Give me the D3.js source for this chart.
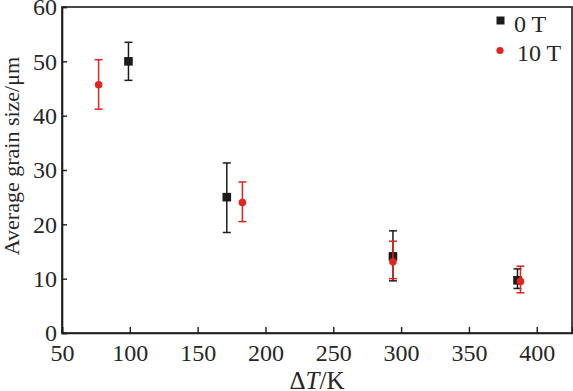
<!DOCTYPE html>
<html><head><meta charset="utf-8">
<script src="https://cdn.jsdelivr.net/npm/d3@7"></script>
<style>body{margin:0;background:#fff}svg{display:block}text{font-family:"Liberation Serif","Times New Roman",serif;fill:#262626}</style>
</head><body><svg id="c" width="573" height="391"></svg>
<script>
const xTicks = [50,100,150,200,250,300,350,400];
const yTicks = [0,10,20,30,40,50,60];
// 0 T series
const x0T = [99, 171.5, 294, 385.8];
const y0T = [50, 25, 14.1, 9.7];
const lo0T = [46.5, 18.5, 9.6, 8.2];
const hi0T = [53.5, 31.3, 18.8, 11.8];
// 10 T series
const x10T = [77, 183, 294, 388];
const y10T = [45.7, 24, 13.1, 9.5];
const lo10T = [41.2, 20.5, 10.0, 7.4];
const hi10T = [50.3, 27.8, 16.9, 12.3];
const legendLabels = ["0 T","10 T"];

const svg = d3.select("#c");
const m = {l:62, r:572, t:7, b:333};
const x = d3.scaleLinear().domain([50,426]).range([m.l,m.r]);
const y = d3.scaleLinear().domain([0,60]).range([m.b,m.t]);
const black = "#1c1c1c", red = "#e3231d";

// frame
svg.append("rect").attr("x",m.l).attr("y",m.t).attr("width",m.r-m.l).attr("height",m.b-m.t)
  .attr("fill","none").attr("stroke",black).attr("stroke-width",1.6);

const xa = svg.append("g").attr("transform",`translate(0,${m.b})`)
  .call(d3.axisBottom(x).tickValues(xTicks).tickSize(-6).tickPadding(11).tickFormat(d3.format("d")));
const ya = svg.append("g").attr("transform",`translate(${m.l},0)`)
  .call(d3.axisLeft(y).tickValues(yTicks).tickSize(-5).tickPadding(5).tickFormat(d3.format("d")));
[xa,ya].forEach(a=>{
  a.select(".domain").attr("stroke",black).attr("stroke-width",1.6);
  a.selectAll(".tick line").attr("stroke",black).attr("stroke-width",1.4);
  a.selectAll(".tick text").attr("font-size",24).attr("fill","#262626").attr("font-family",'"Liberation Serif",serif');
});

function series(xs, ys, los, his, color, shape){
  const g = svg.append("g");
  xs.forEach((xv,i)=>{
    const cx = x(xv);
    g.append("line").attr("x1",cx).attr("x2",cx).attr("y1",y(los[i])).attr("y2",y(his[i]))
      .attr("stroke",color).attr("stroke-width",1.5);
    [los[i],his[i]].forEach(v=>g.append("line").attr("x1",cx-4).attr("x2",cx+4).attr("y1",y(v)).attr("y2",y(v))
      .attr("stroke",color).attr("stroke-width",1.5));
    if(shape==="sq") g.append("rect").attr("x",cx-4.3).attr("y",y(ys[i])-4.3).attr("width",8.6).attr("height",8.6).attr("fill",color);
    else g.append("circle").attr("cx",cx).attr("cy",y(ys[i])).attr("r",3.8).attr("fill",color);
  });
}
series(x0T,y0T,lo0T,hi0T,black,"sq");
series(x10T,y10T,lo10T,hi10T,red,"ci");

// legend
const lg = svg.append("g");
lg.append("rect").attr("x",496.5).attr("y",16.5).attr("width",8).attr("height",8).attr("fill",black);
lg.append("circle").attr("cx",500).attr("cy",50.5).attr("r",3.6).attr("fill",red);
lg.append("text").attr("x",514).attr("y",31.5).attr("font-size",24).text(legendLabels[0]);
lg.append("text").attr("x",517).attr("y",61).attr("font-size",24).text(legendLabels[1]);

// axis titles
svg.append("text").attr("transform","translate(19,156) rotate(-90)").attr("text-anchor","middle")
  .attr("font-size",22).text("Average grain size/μm");
const xt = svg.append("text").attr("x",317).attr("y",389).attr("text-anchor","middle").attr("font-size",25);
xt.append("tspan").text("Δ");
xt.append("tspan").attr("font-style","italic").text("T");
xt.append("tspan").text("/K");
</script></body></html>
